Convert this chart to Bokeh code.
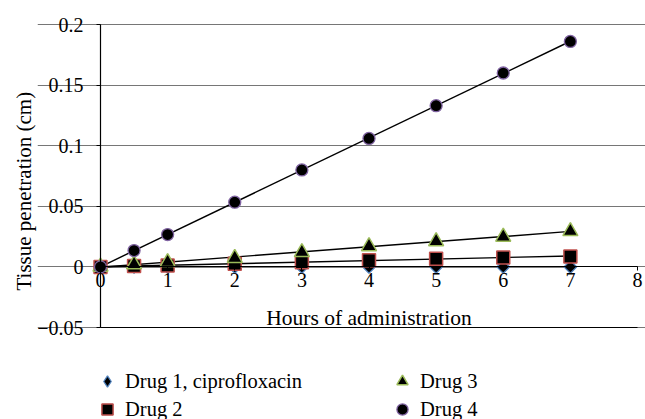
import numpy as np
from bokeh.plotting import figure
from bokeh.layouts import column
from bokeh.models import (Range1d, FixedTicker, Legend, LegendItem, Title,
                          LinearAxis)
from bokeh.embed import file_html
from bokeh.resources import INLINE

# ---- data ----
hours = [0, 0.5, 1, 2, 3, 4, 5, 6, 7]
drug1 = [0, 0, 0, 0, 0, 0, 0, 0, 0]
drug2 = [0, 0.0008, 0.0012, 0.0025, 0.0038, 0.0055, 0.0068, 0.0078, 0.0086]
drug3 = [0, 0.0021, 0.0039, 0.0073, 0.0121, 0.0170, 0.0211, 0.0248, 0.0294]
drug4 = [0, 0.0135, 0.0267, 0.0534, 0.0800, 0.1060, 0.1330, 0.1600, 0.1860]

series_names = ["Drug 1, ciprofloxacin", "Drug 2", "Drug 3", "Drug 4"]
x_ticks = [0, 1, 2, 3, 4, 5, 6, 7, 8]
x_tick_labels = ["0", "1", "2", "3", "4", "5", "6", "7", "8"]
y_ticks = [-0.05, 0, 0.05, 0.1, 0.15, 0.2]
y_tick_labels = ["\u22120.05", "0", "0.05", "0.1", "0.15", "0.2"]

FONT = "Liberation Serif"
styles = [
    dict(marker="square", angle=np.pi / 4, size=9, line_color="#4F81BD", line_width=1.3),
    dict(marker="square", size=13, line_color="#C0504D", line_width=1.5),
    dict(marker="triangle", size=15, line_color="#9BBB59", line_width=1.5),
    dict(marker="circle", size=12, line_color="#8064A2", line_width=1.3),
]
legend_styles = [dict(st) for st in styles]
legend_styles[0] = dict(marker="diamond", size=13, line_color="#4F81BD", line_width=1.3)

# ---- layout (pixels) ----
W, H_MAIN, H_LEG = 645, 340, 79
FR_L, FR_R, FR_T, FR_B = 37, 645, 8, 340      # frame edges
AX_L, AX_R, AX_T, AX_B = 100, 637, 24, 327    # where the axes' extremes sit
x0, x1 = x_ticks[0], x_ticks[-1]
y0, y1 = y_ticks[0], y_ticks[-1]
sx_ = (AX_R - AX_L) / (x1 - x0)
sy_ = (AX_B - AX_T) / (y1 - y0)
x_range = Range1d(x0 - (AX_L - FR_L) / sx_, x1 + (FR_R - AX_R) / sx_)
y_range = Range1d(y0 - (FR_B - AX_B) / sy_, y1 + (AX_T - FR_T) / sy_)

p = figure(width=W, height=H_MAIN, output_backend="svg", toolbar_location=None,
           x_range=x_range, y_range=y_range,
           min_border_left=FR_L, min_border_right=W - FR_R,
           min_border_top=FR_T, min_border_bottom=H_MAIN - FR_B)
p.outline_line_color = None
p.background_fill_color = "white"

# x axis crossing at y = 0
xa = p.xaxis[0]
xa.fixed_location = 0
xa.bounds = (x0, x1)
xa.ticker = FixedTicker(ticks=x_ticks)
xa.major_label_overrides = {t: l for t, l in zip(x_ticks, x_tick_labels)}
xa.axis_label = "Hours of administration"
xa.axis_label_text_font = FONT
xa.axis_label_text_font_size = "21.5px"
xa.axis_label_text_font_style = "normal"
xa.axis_label_text_color = "black"
xa.axis_label_standoff = 16
xa.major_label_text_font = FONT
xa.major_label_text_font_size = "20px"
xa.major_label_text_color = "black"
xa.major_label_standoff = 2
xa.major_tick_out = 4
xa.major_tick_in = 0
xa.minor_tick_line_color = None
xa.axis_line_color = "black"
xa.axis_line_width = 1.2
xa.major_tick_line_color = "black"

ya = p.yaxis[0]
ya.fixed_location = 0
ya.bounds = (y0, y1)
ya.ticker = FixedTicker(ticks=y_ticks)
ya.major_label_overrides = {t: l for t, l in zip(y_ticks, y_tick_labels)}
ya.major_label_text_font = FONT
ya.major_label_text_font_size = "20px"
ya.major_label_text_color = "black"
ya.major_label_standoff = 13
ya.major_tick_out = 4
ya.major_tick_in = 0
ya.minor_tick_line_color = None
ya.axis_line_color = "black"
ya.axis_line_width = 1.2
ya.major_tick_line_color = "black"

# bottom border line of the plot area (at the lowest y tick)
bottom = LinearAxis(fixed_location=y0, bounds=(x0, x1),
                    ticker=FixedTicker(ticks=[]), axis_line_color="black",
                    axis_line_width=1.2, major_tick_line_color=None,
                    minor_tick_line_color=None, major_label_text_alpha=0)
p.add_layout(bottom, "below")

p.xgrid.grid_line_color = None
p.ygrid.ticker = FixedTicker(ticks=y_ticks)
p.ygrid.bounds = (x0, x1)
p.ygrid.grid_line_color = "#767676"
p.ygrid.grid_line_width = 1.2

ytitle = Title(text="Tissue penetration (cm)", align="left",
               offset=FR_B - 290,
               text_font=FONT, text_font_size="21px", text_font_style="normal",
               text_color="black", standoff=4)
p.add_layout(ytitle, "left")

# trendlines
all_series = [drug1, drug2, drug3, drug4]
for ys in all_series:
    k, b = np.polyfit(hours, ys, 1)
    xs = [hours[0], hours[-1]]
    p.line(xs, [k * xx + b for xx in xs], line_color="black", line_width=1.4)

for ys, st in zip(all_series, styles):
    p.scatter(hours, ys, fill_color="black", **st)

# ---- legend panel (separate figure below the chart) ----
lg = figure(width=W, height=H_LEG, output_backend="svg", toolbar_location=None,
            x_range=Range1d(0, 1), y_range=Range1d(0, 1),
            x_axis_location=None, y_axis_location=None,
            min_border_left=FR_L, min_border_right=W - FR_R, min_border_top=0,
            min_border_bottom=0)
lg.outline_line_color = None
lg.xgrid.grid_line_color = None
lg.ygrid.grid_line_color = None

proxies = [lg.scatter(hours, ys, fill_color="black", visible=False, **st)
           for ys, st in zip(all_series, legend_styles)]
legend = Legend(items=[LegendItem(label=n, renderers=[r])
                       for n, r in zip(series_names, proxies)],
                location=(93 - FR_L, -4), orientation="vertical", nrows=2,
                glyph_width=28, glyph_height=28, label_height=28,
                label_width=263, label_standoff=4, spacing=0, padding=0,
                margin=0, border_line_color=None, background_fill_alpha=0,
                inactive_fill_alpha=0,
                label_text_font=FONT, label_text_font_size="20.5px",
                label_text_color="black")
lg.add_layout(legend, "center")

layout = column(p, lg, spacing=0)
open("out.html", "w").write(file_html(layout, INLINE))
